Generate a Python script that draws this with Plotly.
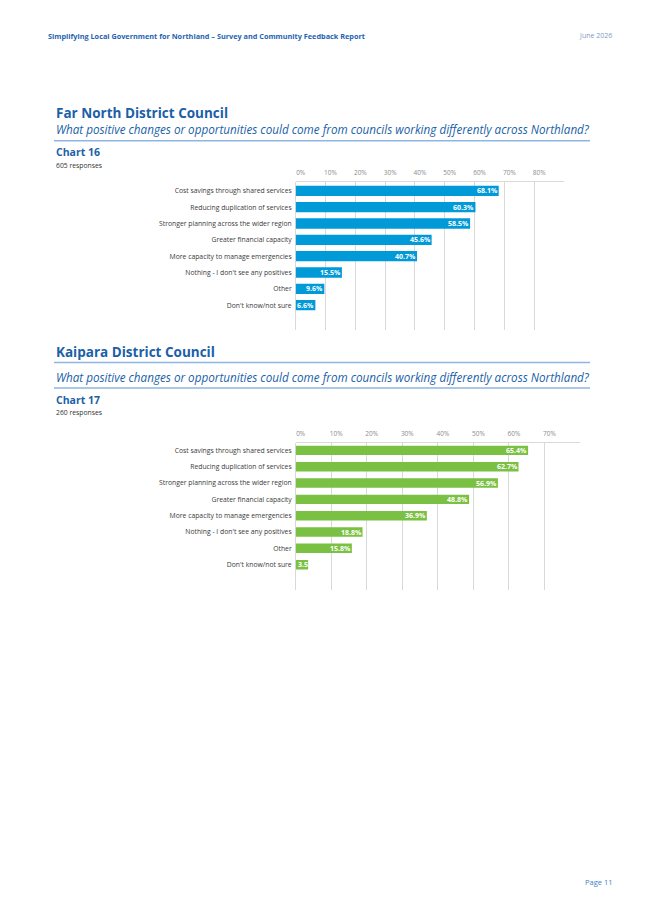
import plotly.graph_objects as go

W, H = 645, 912

categories = [
    "Cost savings through shared services",
    "Reducing duplication of services",
    "Stronger planning across the wider region",
    "Greater financial capacity",
    "More capacity to manage emergencies",
    "Nothing - I don't see any positives",
    "Other",
    "Don't know/not sure",
]
far_north_values = [68.1, 60.3, 58.5, 45.6, 40.7, 15.5, 9.6, 6.6]
kaipara_values = [65.4, 62.7, 56.9, 48.8, 36.9, 18.8, 15.8, 3.5]

far_north_tickvals = [0, 10, 20, 30, 40, 50, 60, 70, 80, 90]
far_north_ticktext = ["0%", "10%", "20%", "30%", "40%", "50%", "60%", "70%", "80%", ""]
kaipara_tickvals = [0, 10, 20, 30, 40, 50, 60, 70, 80]
kaipara_ticktext = ["0%", "10%", "20%", "30%", "40%", "50%", "60%", "70%", ""]

FONT = "Open Sans"
BLUE_BAR = "#009ad9"
GREEN_BAR = "#7ac143"
TITLE_BLUE = "#1b5fa8"
LINE_BLUE = "#8fb6e2"
GRID = "#d9d9d9"

# plot areas (pixels)
FN_X0, FN_X1, FN_Y0, FN_Y1 = 295.7, 564, 181.7, 330
KP_X0, KP_X1, KP_Y0, KP_Y1 = 295.7, 580, 442.7, 590
FN_RANGE = [0, 90]
KP_RANGE = [0, 80]


def px(x):
    return x / W


def py(y):
    return 1 - y / H


fig = go.Figure()

fig.add_trace(go.Bar(
    x=far_north_values, y=categories, orientation="h",
    marker=dict(color=BLUE_BAR, line=dict(width=0)),
    width=0.63, xaxis="x", yaxis="y", hoverinfo="skip",
))
fig.add_trace(go.Bar(
    x=kaipara_values, y=categories, orientation="h",
    marker=dict(color=GREEN_BAR, line=dict(width=0)),
    width=0.58, xaxis="x2", yaxis="y2", hoverinfo="skip",
))

xcommon = dict(
    side="top", showgrid=True, gridcolor=GRID, gridwidth=1,
    showline=True, linecolor=GRID, linewidth=1,
    zeroline=True, zerolinecolor=GRID, zerolinewidth=1,
    ticks="", tickfont=dict(family=FONT, size=6.5, color="#8c8c8c"),
    ticklabelshift=5, ticklabelstandoff=3, fixedrange=True,
)
ycommon = dict(
    type="category", showgrid=False, zeroline=False, showline=False,
    ticks="", tickfont=dict(family=FONT, size=6.8, color="#3a3a3a"),
    ticklabelstandoff=3, fixedrange=True,
)

fig.update_layout(
    width=W, height=H,
    margin=dict(l=0, r=0, t=0, b=0),
    paper_bgcolor="white", plot_bgcolor="white",
    showlegend=False, barmode="overlay",
    font=dict(family=FONT),
    xaxis=dict(domain=[px(FN_X0), px(FN_X1)], range=FN_RANGE,
               tickmode="array", tickvals=far_north_tickvals, ticktext=far_north_ticktext,
               anchor="y", **xcommon),
    yaxis=dict(domain=[py(FN_Y1), py(FN_Y0)], range=[8.52, -0.56],
               anchor="x", **ycommon),
    xaxis2=dict(domain=[px(KP_X0), px(KP_X1)], range=KP_RANGE,
                tickmode="array", tickvals=kaipara_tickvals, ticktext=kaipara_ticktext,
                anchor="y2", **xcommon),
    yaxis2=dict(domain=[py(KP_Y1), py(KP_Y0)], range=[8.55, -0.47],
                anchor="x2", **ycommon),
)

annotations = []

# value labels on bars (white bold, right-aligned at bar end; left-aligned at 0 if bar too short)
LABEL_MIN_PX = 18
for vals, xr, yr, x0, x1, rng in [
    (far_north_values, "x", "y", FN_X0, FN_X1, FN_RANGE),
    (kaipara_values, "x2", "y2", KP_X0, KP_X1, KP_RANGE),
]:
    scale = (x1 - x0) / (rng[1] - rng[0])
    for cat, v in zip(categories, vals):
        short = v * scale < LABEL_MIN_PX
        annotations.append(dict(
            x=0 if short else v, y=cat, xref=xr, yref=yr,
            text=f"{v:.1f}%", showarrow=False,
            xanchor="left" if short else "right", yanchor="middle",
            xshift=1 if short else 0, borderpad=0,
            font=dict(family=FONT, size=7, color="white", weight="bold"),
        ))


def text(x, y, s, size, color, bold=False, italic=False, xanchor="left"):
    annotations.append(dict(
        x=px(x), y=py(y), xref="paper", yref="paper", text=s, showarrow=False,
        xanchor=xanchor, yanchor="middle",
        font=dict(family=FONT, size=size, color=color,
                  weight="bold" if bold else "normal",
                  style="italic" if italic else "normal"),
    ))


text(46, 35.7, "Simplifying Local Government for Northland – Survey and Community Feedback Report",
     7.3, "#1f63b0", bold=True)
text(614, 35.7, "June 2026", 7, "#7f9cc4", xanchor="right")

# Section 1
text(54, 113, "Far North District Council", 13.5, TITLE_BLUE, bold=True)
text(54, 128.5, "What positive changes or opportunities could come from councils working differently across Northland?",
     11.7, TITLE_BLUE, italic=True)
text(54, 152.5, "Chart 16", 10.5, TITLE_BLUE, bold=True)
text(54, 165, "605 responses", 6.8, "#333333")

# Section 2
text(54, 351.5, "Kaipara District Council", 13.5, TITLE_BLUE, bold=True)
text(54, 377, "What positive changes or opportunities could come from councils working differently across Northland?",
     11.7, TITLE_BLUE, italic=True)
text(54, 400, "Chart 17", 10.5, TITLE_BLUE, bold=True)
text(54, 412.5, "260 responses", 6.8, "#333333")

text(615, 881.5, "Page 11", 7.5, "#3f7fc6", xanchor="right")

fig.update_layout(annotations=annotations)

shapes = []
for yline in [140.7, 362.5, 388]:
    shapes.append(dict(type="line", xref="paper", yref="paper",
                       x0=px(54), x1=px(590), y0=py(yline), y1=py(yline),
                       line=dict(color=LINE_BLUE, width=1.5)))
fig.update_layout(shapes=shapes)

fig.write_html(
    "out.html",
    config={"displayModeBar": False, "staticPlot": True},
    post_script="document.body.style.margin='0';document.body.style.padding='0';",
)
